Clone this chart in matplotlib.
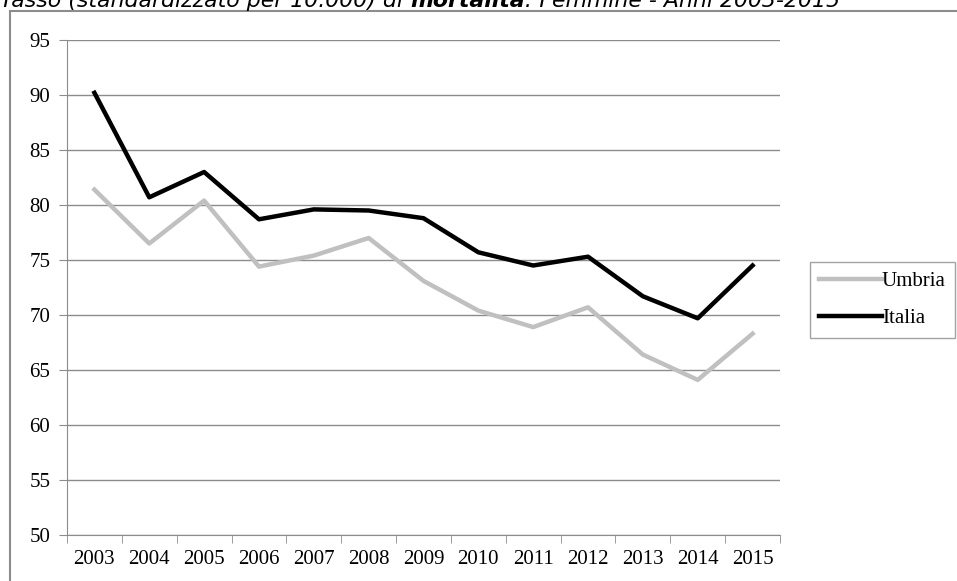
import matplotlib.pyplot as plt
from matplotlib.patches import Rectangle

# ----------------------------- data ------------------------------------------
years   = ["2003", "2004", "2005", "2006", "2007", "2008", "2009",
           "2010", "2011", "2012", "2013", "2014", "2015"]
umbria  = [81.4, 76.5, 80.4, 74.4, 75.4, 77.0, 73.1, 70.4, 68.9, 70.7, 66.4, 64.1, 68.3]
italia  = [90.2, 80.7, 83.0, 78.7, 79.6, 79.5, 78.8, 75.7, 74.5, 75.3, 71.7, 69.7, 74.5]
y_ticks = list(range(50, 96, 5))
title_parts = [("Tasso (standardizzato per 10.000) di ", "normal"),
               ("mortalità", "bold"),
               (": Femmine - Anni 2003-2015", "normal")]

# ------------------------------- plot ----------------------------------------
W, H = 957, 581
fig = plt.figure(figsize=(W / 100, H / 100), dpi=100)

# outer chart frame (Excel-style), cut off on right/bottom
fig.patches.append(Rectangle((10 / W, -0.1), 1.2, 1 - 11 / H + 0.1,
                             transform=fig.transFigure, fill=False,
                             edgecolor="#8c8c8c", lw=1.5))

# title: italic, bold word in the middle -> draw pieces one after another
renderer = fig.canvas.get_renderer()
xpos = 0.0
for txt, weight in title_parts:
    t = fig.text(xpos, 1 - 7 / H, txt, fontsize=15.8, style="italic", weight=weight,
                 family="DejaVu Sans", va="baseline", ha="left")
    bb = t.get_window_extent(renderer=renderer)
    xpos = bb.x1 / W

ax = fig.add_axes([67 / W, 1 - 535 / H, (780 - 67) / W, (535 - 40) / H])
x = list(range(len(years)))
ax.plot(x, umbria, color="#c0c0c0", lw=3.2, label="Umbria")
ax.plot(x, italia, color="black", lw=3.2, label="Italia")

ax.set_xlim(-0.5, len(years) - 0.5)
ax.set_ylim(50, 95)
ax.set_yticks(y_ticks)
ax.set_yticklabels([str(v) for v in y_ticks], family="Liberation Serif", fontsize=15)
ax.set_xticks(x)
ax.set_xticklabels(years, family="Liberation Serif", fontsize=15)
ax.set_xticks([i - 0.5 for i in range(len(years) + 1)], minor=True)
ax.tick_params(axis="x", which="major", length=0, pad=11)
ax.tick_params(axis="x", which="minor", length=6, color="#8c8c8c")
ax.tick_params(axis="y", length=6, color="#8c8c8c", pad=6)
ax.grid(axis="y", color="#8c8c8c", lw=1)
ax.set_axisbelow(True)
for s in ("top", "right"):
    ax.spines[s].set_visible(False)
for s in ("left", "bottom"):
    ax.spines[s].set_color("#8c8c8c")

leg = fig.legend(loc="center left", bbox_to_anchor=(810 / W, 1 - 300 / H),
                 prop={"family": "Liberation Serif", "size": 15},
                 frameon=True, fancybox=False, handlelength=3.0, handletextpad=0.0,
                 borderpad=0.45, labelspacing=0.85, borderaxespad=0)
leg.get_frame().set_edgecolor("#8c8c8c")
leg.get_frame().set_linewidth(1)

fig.savefig("out.png", dpi=100)
